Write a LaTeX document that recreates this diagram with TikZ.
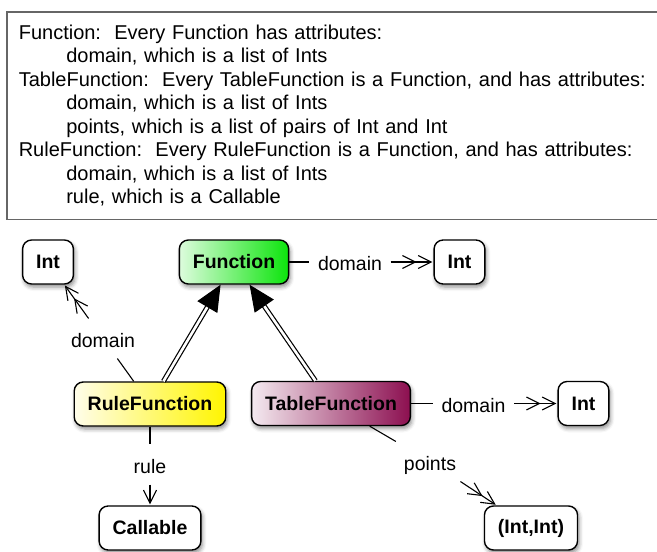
\documentclass[tikz,border=0pt]{standalone}
\usepackage{fontspec}
\setmainfont{Liberation Sans}
\usetikzlibrary{arrows.meta,shadows.blur}

\definecolor{fnlight}{HTML}{DDFCDD}
\definecolor{fndark}{HTML}{0CE40C}
\definecolor{rulelight}{HTML}{FFFDEA}
\definecolor{ruledark}{HTML}{FFF500}
\definecolor{tablelight}{HTML}{F4EAF0}
\definecolor{tabledark}{HTML}{8C0F50}

\tikzset{
	cls/.style={draw, line width=1.4pt, rounded corners=9pt, fill=white,
		minimum height=44pt, inner xsep=13.5pt,
		font=\fontsize{19.5}{23}\selectfont\bfseries,
		blur shadow={shadow xshift=1.5pt, shadow yshift=-3pt, shadow blur radius=4pt, shadow opacity=45}},
	role/.style={inner xsep=8pt, inner ysep=6pt, text height=22pt, text depth=5pt,
		font=\fontsize{19.5}{23}\selectfont},
	isa/.style={double, double distance=2.6pt, line width=1.2pt, -{Triangle[length=26pt,width=23pt]}},
}

\begin{document}
\begin{tikzpicture}[x=1pt, y=-1pt, line width=1.1pt, >={Straight Barb[length=13pt,width=13pt,sep=1pt]}]
		\useasboundingbox (0,0) rectangle (657,552);

		\draw (6,11) node [anchor=north west, draw=black!60, line width=1.6pt, text width=665pt, align=left,
			inner xsep=12pt, inner ysep=13pt, font=\fontsize{20}{23.5}\selectfont] (spec) {%
			Function:~~Every Function has attributes:\\
			\hspace*{47.5pt}domain, which is a list of Ints\\
			TableFunction:~~Every TableFunction is a Function, and has attributes:\\
			\hspace*{47.5pt}domain, which is a list of Ints\\
			\hspace*{47.5pt}points, which is a list of pairs of Int and Int\\
			RuleFunction:~~Every RuleFunction is a Function, and has attributes:\\
			\hspace*{47.5pt}domain, which is a list of Ints\\
			\hspace*{47.5pt}rule, which is a Callable};

		\draw (48,262) node [cls] (i0) {Int};
		\draw (234,262) node [cls, left color=fnlight, right color=fndark] (fn) {Function};
		\draw (459.5,262) node [cls] (i1) {Int};
		\draw (150,404) node [cls, left color=rulelight, right color=ruledark] (rf) {RuleFunction};
		\draw (331,403.5) node [cls, left color=tablelight, right color=tabledark] (tf) {TableFunction};
		\draw (583.5,403.5) node [cls] (i2) {Int};
		\draw (150,528) node [cls] (cl) {Callable};
		\draw (531,528) node [cls] (pr) {(Int,Int)};

		\draw (350,262) node [role] (fd) {domain};
		\draw (473.5,403.5) node [role] (td) {domain};
		\draw (103,338.5) node [role] (rd) {domain};
		\draw (150,464.5) node [role] (rl) {rule};
		\draw (430,461.5) node [role] (pt) {points};

		\draw
			(fn) edge (fd)
			(fd) edge [->>] (i1)
			(tf) edge (td)
			(td) edge [->>] (i2)
			(rf) edge (rd)
			(rd) edge [->>] (i0)
			(rf) edge (rl)
			(rl) edge [->] (cl)
			(tf) edge (pt)
			(pt) edge [->>] (pr)
			(rf) edge [isa] (fn)
			(tf) edge [isa] (fn)
		;
	\end{tikzpicture}
\end{document}
